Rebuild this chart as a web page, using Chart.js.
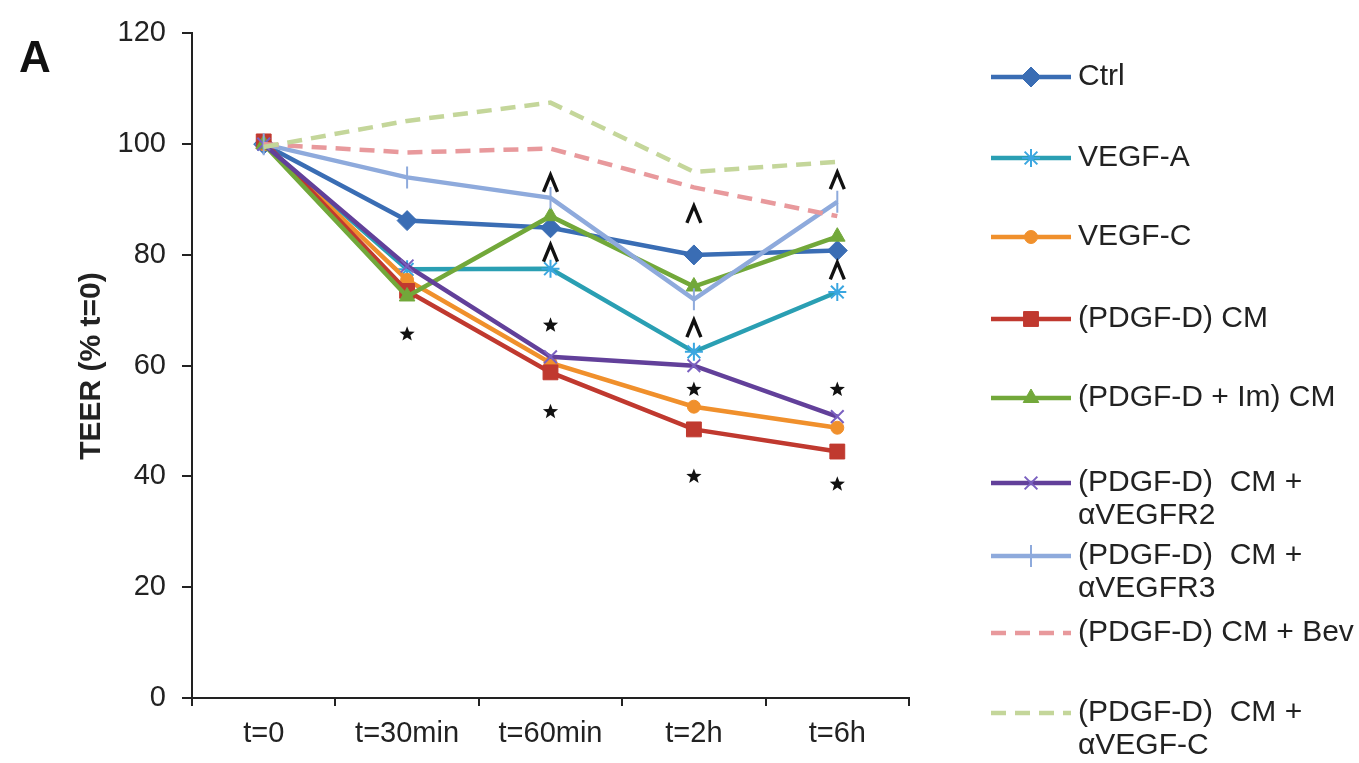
<!DOCTYPE html>
<html><head><meta charset="utf-8">
<script src="https://cdn.jsdelivr.net/npm/chart.js@4.4.1/dist/chart.umd.min.js"></script>
<style>html,body{margin:0;padding:0;background:#fff;}#wrap{width:1359px;height:763px;position:relative;}</style>
</head><body><div id="wrap"><canvas id="c" width="1359" height="763"></canvas></div>
<script>
// ---- data ----
const categories = ['t=0', 't=30min', 't=60min', 't=2h', 't=6h'];
const yTicks = [0, 20, 40, 60, 80, 100, 120];
const ctrl      = [100, 86.2, 84.9, 80.0, 80.8];
const vegfA     = [100, 77.4, 77.5, 62.5, 73.3];
const vegfC     = [100, 75.5, 60.5, 52.6, 48.8];
const pdgfdCM   = [100.5, 73.5, 58.8, 48.5, 44.5];
const pdgfdIm   = [100, 72.5, 87.0, 74.3, 83.3];
const aVEGFR2   = [100, 78.0, 61.6, 60.0, 50.8];
const aVEGFR3   = [100, 94.0, 90.3, 72.0, 89.6];
const bev       = [100, 98.5, 99.2, 92.2, 87.0];
const aVEGFC    = [99.5, 104.2, 107.5, 95.0, 96.8];
const seriesNames = ['Ctrl','VEGF-A','VEGF-C','(PDGF-D) CM','(PDGF-D + Im) CM','(PDGF-D)  CM + αVEGFR2','(PDGF-D)  CM + αVEGFR3','(PDGF-D) CM + Bev','(PDGF-D)  CM + αVEGF-C'];
const legendLines = [['Ctrl'],['VEGF-A'],['VEGF-C'],['(PDGF-D) CM'],['(PDGF-D + Im) CM'],['(PDGF-D)  CM +','αVEGFR2'],['(PDGF-D)  CM +','αVEGFR3'],['(PDGF-D) CM + Bev'],['(PDGF-D)  CM +','αVEGF-C']];
// significance marks: [category, value]
const starMarks  = [['t=30min',65.7],['t=60min',67.3],['t=60min',51.7],['t=2h',55.7],['t=2h',40.0],['t=6h',55.7],['t=6h',38.6]];
const caretMarks = [['t=60min',93.0],['t=60min',80.4],['t=2h',87.4],['t=2h',66.8],['t=6h',93.5],['t=6h',77.2]];

// ---- styles ----
const allData = [ctrl, vegfA, vegfC, pdgfdCM, pdgfdIm, aVEGFR2, aVEGFR3, bev, aVEGFC];
const colors  = ['#3a6db4','#2a9fb3','#f0902c','#c0392f','#72a83a','#62409a','#8eaadc','#e8999c','#c4d69a'];
const markerColors = ['#3a6db4','#3aa6e0','#f0902c','#c0392f','#72a83a','#7a60c0','#8eaadc','#e8999c','#c4d69a'];
const pStyles = ['rectRot','star','circle','rect','triangle','crossRot','line',false,false];
const pRadius = [10,9,6.5,10.5,9,9,11,0,0];
const pRot    = [0,0,0,0,0,0,90,0,0];
const pBW     = [1,2,1,1,1,2,2,0,0];
const dashes  = [[],[],[],[],[],[],[],[15,9],[15,9]];
const legendY = [77,158,237,319,398,483,556,633,713];
const FONT = '"Liberation Sans", Arial, sans-serif';

const datasets = allData.map((d,i)=>({
  label: seriesNames[i], data: d,
  borderColor: colors[i], backgroundColor: markerColors[i],
  pointBackgroundColor: markerColors[i], pointBorderColor: markerColors[i],
  borderWidth: 4.5, borderDash: dashes[i], tension: 0,
  pointStyle: pStyles[i] || 'circle', pointRadius: pRadius[i], pointRotation: pRot[i],
  pointBorderWidth: pBW[i], pointHoverRadius: pRadius[i],
  order: 20 - i
}));

function drawStar(ctx, x, y, R, r){
  ctx.beginPath();
  for(let k=0;k<10;k++){
    const a = -Math.PI/2 + k*Math.PI/5;
    const rr = k%2===0 ? R : r;
    const px = x + rr*Math.cos(a), py = y + rr*Math.sin(a);
    k===0 ? ctx.moveTo(px,py) : ctx.lineTo(px,py);
  }
  ctx.closePath(); ctx.fill();
}

const extras = {
  id: 'extras',
  afterDraw(chart){
    const ctx = chart.ctx, xs = chart.scales.x, ys = chart.scales.y;
    ctx.save();
    // significance marks
    ctx.fillStyle = '#111'; ctx.strokeStyle = '#111';
    starMarks.forEach(([c,v])=>{
      drawStar(ctx, xs.getPixelForValue(categories.indexOf(c)), ys.getPixelForValue(v), 8, 3.4);
    });
    ctx.lineWidth = 3.4; ctx.lineJoin = 'miter';
    caretMarks.forEach(([c,v])=>{
      const x = xs.getPixelForValue(categories.indexOf(c)), y = ys.getPixelForValue(v);
      ctx.beginPath(); ctx.moveTo(x-7, y+9); ctx.lineTo(x, y-8); ctx.lineTo(x+7, y+9); ctx.stroke();
    });
    // y title
    ctx.save();
    ctx.translate(92, 366); ctx.rotate(-Math.PI/2);
    ctx.fillStyle = '#222'; ctx.font = 'bold 30px ' + FONT;
    ctx.textAlign = 'center'; ctx.textBaseline = 'middle';
    ctx.fillText('TEER (% t=0)', 0, 0);
    ctx.restore();
    // panel letter
    ctx.fillStyle = '#111'; ctx.font = 'bold 44px ' + FONT;
    ctx.textAlign = 'center'; ctx.textBaseline = 'middle';
    ctx.fillText('A', 35, 60);
    // legend
    chart.data.datasets.forEach((ds,i)=>{
      const y = legendY[i];
      ctx.save();
      ctx.strokeStyle = ds.borderColor; ctx.lineWidth = 4.5;
      ctx.setLineDash(ds.borderDash || []);
      ctx.beginPath(); ctx.moveTo(991, y); ctx.lineTo(1071, y); ctx.stroke();
      ctx.setLineDash([]);
      if (pStyles[i]) {
        ctx.fillStyle = markerColors[i]; ctx.strokeStyle = markerColors[i];
        ctx.lineWidth = pBW[i];
        Chart.helpers.drawPoint(ctx, {pointStyle: pStyles[i], radius: pRadius[i], rotation: pRot[i], borderWidth: pBW[i]}, 1031, y);
      }
      ctx.restore();
      ctx.fillStyle = '#222'; ctx.font = '30px ' + FONT;
      ctx.textAlign = 'left'; ctx.textBaseline = 'middle';
      legendLines[i].forEach((t,j)=> ctx.fillText(t, 1078, y + j*33));
    });
    ctx.restore();
  }
};

new Chart(document.getElementById('c'), {
  type: 'line',
  data: { labels: categories, datasets },
  options: {
    responsive: false, animation: false, devicePixelRatio: 1,
    layout: { padding: { left: 0, right: 450, top: 29.6, bottom: 0 } },
    plugins: { legend: { display: false }, tooltip: { enabled: false } },
    scales: {
      x: {
        type: 'category', offset: true,
        grid: { drawOnChartArea: false, drawTicks: true, tickLength: 8, color: '#222', lineWidth: 2, offset: true },
        border: { display: true, color: '#222', width: 2 },
        ticks: { color: '#222', font: { family: FONT, size: 29 }, padding: 11, maxRotation: 0, autoSkip: false },
        afterFit: s => { s.height = 65; }
      },
      y: {
        min: 0, max: 120,
        afterBuildTicks: s => { s.ticks = yTicks.map(v => ({ value: v })); },
        grid: { drawOnChartArea: false, drawTicks: true, tickLength: 10, color: '#222', lineWidth: 2 },
        border: { display: true, color: '#222', width: 2 },
        ticks: { color: '#222', font: { family: FONT, size: 29 }, padding: 16 },
        afterFit: s => { s.width = 192; }
      }
    }
  },
  plugins: [extras]
});
</script></body></html>
